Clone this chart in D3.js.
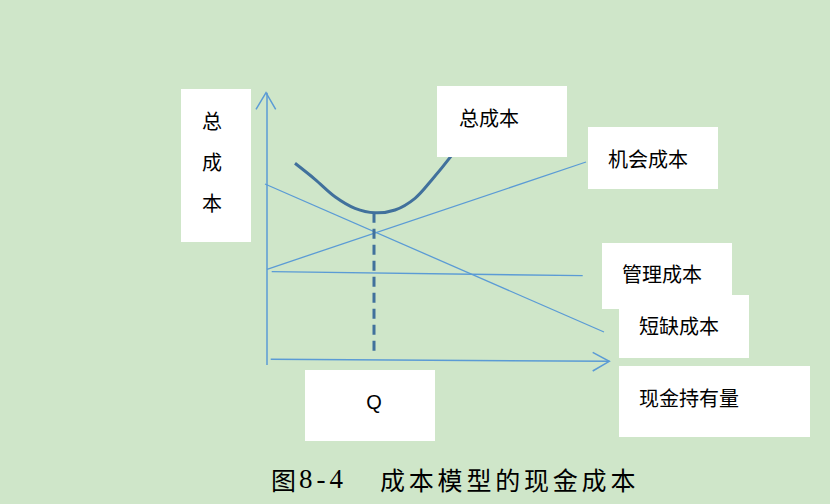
<!DOCTYPE html>
<meta charset="utf-8">
<style>
body { margin: 0; background: #cfe6c9; }
svg { display: block; }
text { font-family: "Noto Sans CJK SC", sans-serif; fill: #000; }
</style>
<body>
<script src="https://cdn.jsdelivr.net/npm/d3@7"></script>
<script>

// cost model values, in chart units (x = cash held, y = cost)
var opportunityCost = [[0, 90.7], [319, 198]];
var shortageCost = [[-2, 176], [337, 28]];
var managementCost = [[4.7, 88.3], [315.7, 84.3]];
var totalCost = [[28, 196.7], [48, 180.7], [68, 163.3], [88, 151.7], [108, 147.3],
                 [128, 150], [148, 161.7], [164.7, 180], [183.7, 203.3], [192, 215]];
var optimumQ = 107;
var optimumCost = 147.3;

var labels = ["总成本", "机会成本", "管理成本", "短缺成本", "现金持有量", "Q"];
var yTitle = ["总", "成", "本"];
var caption = ["图", "8-4", "成本模型的现金成本"];

var width = 830, height = 504;

var x = d3.scaleLinear().domain([0, 340]).range([267, 607]);
var y = d3.scaleLinear().domain([0, 270]).range([360, 90]);

var svg = d3.select("body").append("svg")
    .attr("width", width)
    .attr("height", height);

var line = d3.line()
    .x(function(d){ return x(d[0]); })
    .y(function(d){ return y(d[1]); });

// axes with open arrow heads
var axisPaths = [
  [[0, -5], [0, 267.3]],
  [[-11, 250.7], [-1, 267.3], [8.7, 250.7]],
  [[3.7, 0.7], [342.3, -1.3]],
  [[325.7, 7.7], [342.3, -1.3], [325.7, -11]]
];
svg.selectAll(".axis")
  .data(axisPaths)
  .enter()
  .append("path")
  .attr("class", "axis")
  .attr("d", line)
  .attr("fill", "none")
  .attr("stroke", "#5b9bd5")
  .attr("stroke-width", 1.5);

svg.selectAll(".cost")
  .data([opportunityCost, shortageCost, managementCost])
  .enter()
  .append("path")
  .attr("class", "cost")
  .attr("d", line)
  .attr("fill", "none")
  .attr("stroke", "#5b9bd5")
  .attr("stroke-width", 1.3);

svg.append("path")
  .attr("d", line.curve(d3.curveCatmullRom)(totalCost))
  .attr("fill", "none")
  .attr("stroke", "#41719c")
  .attr("stroke-width", 3);

svg.append("line")
  .attr("x1", x(optimumQ)).attr("x2", x(optimumQ))
  .attr("y1", y(optimumCost)).attr("y2", y(6))
  .attr("stroke", "#41719c")
  .attr("stroke-width", 3)
  .attr("stroke-dasharray", "10,6");

// white label boxes: [left, top, right, bottom, text x, text y]
var boxes = [
  [437, 86, 567, 157, 459, 117],
  [588, 127, 718, 189, 608, 158],
  [602, 243, 732, 309, 622, 273],
  [619, 295, 749, 358, 639, 325],
  [619, 366, 810, 437, 639, 397],
  [305, 370, 435, 441, 374, 402]
];

svg.append("rect")
  .attr("x", 181).attr("y", 89)
  .attr("width", 70).attr("height", 153)
  .attr("fill", "#fff");

svg.selectAll(".ytitle")
  .data(yTitle)
  .enter()
  .append("text")
  .attr("class", "ytitle")
  .attr("x", 212)
  .attr("y", function(d, i){ return 120 + i * 41; })
  .attr("text-anchor", "middle")
  .attr("dominant-baseline", "central")
  .attr("font-size", 20)
  .text(function(d){ return d; });

var g = svg.selectAll(".label")
  .data(labels)
  .enter()
  .append("g")
  .attr("class", "label");

g.append("rect")
  .attr("x", function(d, i){ return boxes[i][0]; })
  .attr("y", function(d, i){ return boxes[i][1]; })
  .attr("width", function(d, i){ return boxes[i][2] - boxes[i][0]; })
  .attr("height", function(d, i){ return boxes[i][3] - boxes[i][1]; })
  .attr("fill", "#fff");

g.append("text")
  .attr("x", function(d, i){ return boxes[i][4]; })
  .attr("y", function(d, i){ return boxes[i][5]; })
  .attr("text-anchor", function(d){ return d == "Q" ? "middle" : "start"; })
  .attr("dominant-baseline", "central")
  .attr("font-size", 20)
  .style("font-family", function(d){ return d == "Q" ? "'Liberation Sans', sans-serif" : null; })
  .text(function(d){ return d; });

// caption
var capX = [271, 299, 380];
svg.selectAll(".caption")
  .data(caption)
  .enter()
  .append("text")
  .attr("class", "caption")
  .attr("x", function(d, i){ return capX[i]; })
  .attr("y", 479)
  .attr("dominant-baseline", "central")
  .attr("font-size", function(d, i){ return i == 1 ? 27 : 25; })
  .attr("letter-spacing", function(d, i){ return i == 1 ? 4 : 3.8; })
  .style("font-family", function(d, i){ return i == 1 ? "'Liberation Serif', serif" : null; })
  .text(function(d){ return d; });

</script>
